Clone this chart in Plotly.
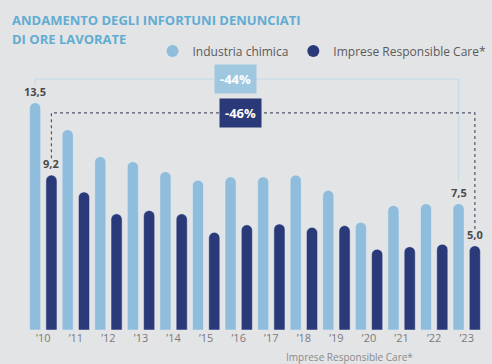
import plotly.graph_objects as go

# ---- data ----
years = ["’10", "’11", "’12", "’13", "’14", "’15", "’16", "’17", "’18", "’19", "’20", "’21", "’22", "’23"]
industria_chimica = [13.5, 11.9, 10.3, 10.0, 9.4, 8.9, 9.1, 9.1, 9.2, 8.3, 6.4, 7.4, 7.5, 7.5]
imprese_rc = [9.2, 8.2, 6.9, 7.1, 6.9, 5.8, 6.25, 6.3, 6.1, 6.2, 4.8, 4.95, 5.1, 5.0]
series_names = ["Industria chimica", "Imprese Responsible Care*"]
title_lines = ["ANDAMENTO DEGLI INFORTUNI DENUNCIATI", "DI ORE LAVORATE"]

LIGHT = "#8fbddb"
DARK = "#2a3977"
BG = "#e3e4e6"

W, H = 492, 364
L, R, T, B = 27, 9, 0, 34
pw, ph = W - L - R, H - T - B
def px2x(px):
    return (px - L) / pw
def py2y(py):
    return 1 - (py - T) / ph

idx = list(range(len(years)))
fig = go.Figure()
fig.add_trace(go.Bar(x=idx, y=industria_chimica, marker_color=LIGHT, name=series_names[0],
                     showlegend=False, hoverinfo="skip"))
fig.add_trace(go.Bar(x=idx, y=imprese_rc, marker_color=DARK, name=series_names[1],
                     showlegend=False, hoverinfo="skip"))
# legend markers (circles)
for nm, col in zip(series_names, [LIGHT, DARK]):
    fig.add_trace(go.Scatter(x=[None], y=[None], mode="markers", name=nm,
                             marker=dict(color=col, size=13, symbol="circle")))

def fmt(v):
    return f"{v:.1f}".replace(".", ",")

first, last = 0, len(years) - 1
off = 0.25
ann = []
for xi, v in [(first - off, industria_chimica[first]), (first + off, imprese_rc[first]),
              (last - off, industria_chimica[last]), (last + off, imprese_rc[last])]:
    ann.append(dict(x=xi, y=v, xref="x", yref="y", text=f"<b>{fmt(v)}</b>", showarrow=False,
                    yanchor="bottom", yshift=2, font=dict(family="Open Sans", size=11, color="#4a4a4a")))

light_level = industria_chimica[first] + 1.4
dark_level = imprese_rc[first] + 3.7
shapes = [
    dict(type="path", xref="x", yref="y",
         path=f"M {first-off},{industria_chimica[first]+1.0} L {first-off},{light_level} "
              f"L {last-off},{light_level} L {last-off},{industria_chimica[last]+1.3}",
         line=dict(color="#c7dbe7", width=1.2)),
    dict(type="path", xref="x", yref="y",
         path=f"M {first+off},{imprese_rc[first]+1.0} L {first+off},{dark_level} "
              f"L {last+off},{dark_level} L {last+off},{imprese_rc[last]+1.0}",
         line=dict(color="#50566a", width=1.2, dash="dot")),
]

pct_light = round((industria_chimica[last] / industria_chimica[first] - 1) * 100)
pct_dark = round((imprese_rc[last] / imprese_rc[first] - 1) * 100)
ann.append(dict(x=5.9, y=light_level, xref="x", yref="y", text=f"<b>{pct_light}%</b>", showarrow=False,
                bgcolor="#9fc8e0", borderpad=5, font=dict(family="Open Sans", size=13, color="white")))
ann.append(dict(x=6.05, y=dark_level, xref="x", yref="y", text=f"<b>{pct_dark}%</b>", showarrow=False,
                bgcolor=DARK, borderpad=5, font=dict(family="Open Sans", size=13, color="white")))

# title
for i, line in enumerate(title_lines):
    ann.append(dict(x=px2x(10), y=py2y(20 + 19 * i), xref="paper", yref="paper", text=f"<b>{line}</b>",
                    showarrow=False, xanchor="left", yanchor="middle",
                    font=dict(family="Open Sans", size=13, color="#62acd2")))
# footnote
ann.append(dict(x=px2x(415), y=py2y(357), xref="paper", yref="paper", text="Imprese Responsible Care*",
                showarrow=False, xanchor="right", yanchor="middle",
                font=dict(family="Open Sans", size=10, color="#8a8a8a")))

fig.update_layout(
    width=W, height=H,
    margin=dict(l=L, r=R, t=T, b=B),
    paper_bgcolor=BG, plot_bgcolor=BG,
    barmode="group", bargap=0.0, bargroupgap=0.32, barcornerradius=6,
    showlegend=True,
    legend=dict(orientation="h", x=px2x(322), y=py2y(51), xanchor="center", yanchor="middle",
                bgcolor="rgba(0,0,0,0)", font=dict(family="Open Sans", size=12, color="#5a5a5a"),
                itemsizing="constant", itemwidth=30, tracegroupgap=0),
    xaxis=dict(range=[-0.5, len(years) - 0.5], tickmode="array", tickvals=idx, ticktext=years,
               showgrid=False, zeroline=False, showline=False, ticks="",
               tickfont=dict(family="Open Sans", size=11, color="#7a7a7a"), fixedrange=True),
    yaxis=dict(range=[0, 19.6], visible=False, showgrid=False, zeroline=False, fixedrange=True),
    annotations=ann, shapes=shapes,
)
fig.write_html("out.html")
